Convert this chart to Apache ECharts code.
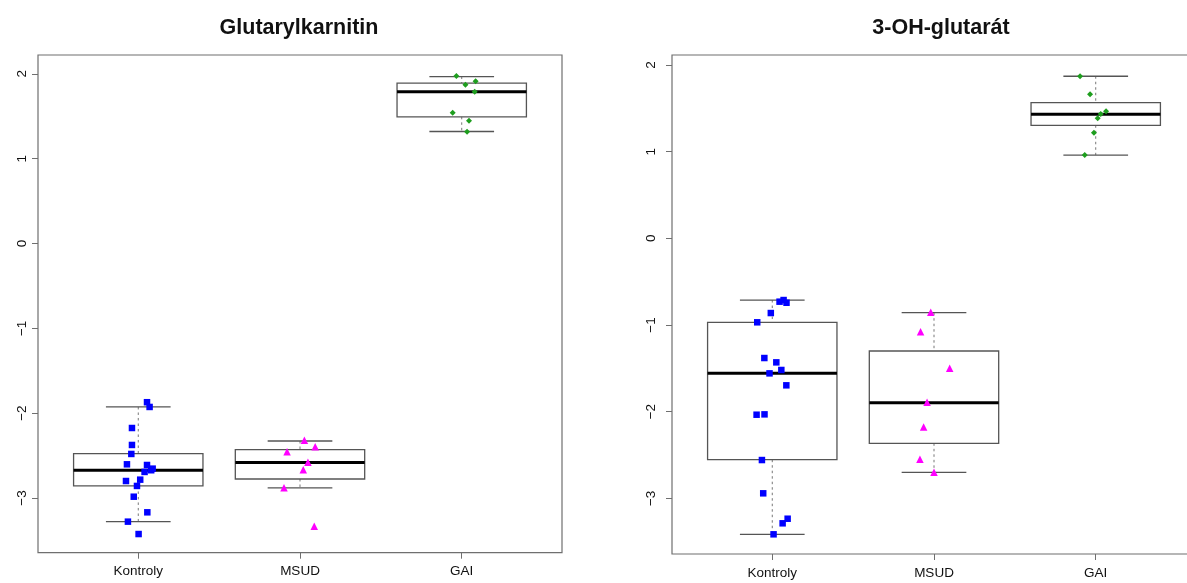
<!DOCTYPE html>
<html>
<head>
<meta charset="utf-8">
<script src="https://cdn.jsdelivr.net/npm/echarts@6/dist/echarts.min.js"></script>
<style>
html,body{margin:0;padding:0;background:#fff;}
#chart{width:1187px;height:583px;}
</style>
</head>
<body>
<div id="chart"></div>
<script>
// ---- data ----
const CATEGORIES = ['Kontroly', 'MSUD', 'GAI'];
const X_POS = [1, 2, 3];
const Y_TICKS = [-3, -2, -1, 0, 1, 2];
const TITLES = ['Glutarylkarnitin', '3-OH-glutarát'];

// Panel 1: Glutarylkarnitin
const GK_KONTROLY = [-1.871, -1.927, -2.175, -2.375, -2.481, -2.603, -2.611, -2.654, -2.673, -2.693, -2.800, -2.784, -2.858, -2.985, -3.169, -3.279, -3.425];
const GK_KONTROLY_JITTER = [0.054, 0.070, -0.039, -0.039, -0.043, -0.070, 0.054, 0.089, 0.080, 0.039, -0.076, 0.012, -0.008, -0.028, 0.056, -0.064, 0.002];
const GK_MSUD = [-2.320, -2.395, -2.454, -2.580, -2.666, -2.878, -3.334];
const GK_MSUD_JITTER = [0.027, 0.094, -0.080, 0.049, 0.020, -0.099, 0.088];
const GK_GAI = [1.973, 1.914, 1.870, 1.788, 1.540, 1.446, 1.316];
const GK_GAI_JITTER = [-0.033, 0.086, 0.023, 0.080, -0.056, 0.045, 0.033];
// [lower whisker, Q1, median, Q3, upper whisker]
const GK_BOX = [
  [-3.279, -2.858, -2.673, -2.477, -1.927],
  [-2.882, -2.776, -2.583, -2.430, -2.328],
  [1.320, 1.493, 1.788, 1.890, 1.968]
];
const GK_YRANGE = [-3.645, 2.222];

// Panel 2: 3-OH-glutarát
const OH_KONTROLY = [-0.712, -0.731, -0.743, -0.862, -0.969, -1.381, -1.431, -1.519, -1.558, -1.696, -2.035, -2.031, -2.558, -2.942, -3.235, -3.288, -3.415];
const OH_KONTROLY_JITTER = [0.070, 0.045, 0.088, -0.009, -0.093, -0.049, 0.025, 0.056, -0.017, 0.087, -0.097, -0.048, -0.064, -0.056, 0.095, 0.064, 0.008];
const OH_MSUD = [-0.853, -1.077, -1.500, -1.892, -2.177, -2.550, -2.700];
const OH_MSUD_JITTER = [-0.020, -0.083, 0.097, -0.043, -0.064, -0.087, 0.000];
const OH_GAI = [1.870, 1.662, 1.466, 1.435, 1.385, 1.219, 0.961];
const OH_GAI_JITTER = [-0.097, -0.035, 0.064, 0.031, 0.012, -0.011, -0.068];
const OH_BOX = [
  [-3.415, -2.554, -1.558, -0.969, -0.712],
  [-2.700, -2.365, -1.896, -1.300, -0.858],
  [0.961, 1.304, 1.431, 1.565, 1.870]
];
const OH_YRANGE = [-3.642, 2.115];

// ---- styles ----
const FONT = '"Liberation Sans", Arial, sans-serif';
const FRAME_COLOR = '#6f6f6f';
const BOX_COLOR = '#555555';
const WHISK_COLOR = '#777777';
const BOX_HALF = 0.4;
const GROUP_STYLES = [
  { symbol: 'rect', size: 6.5, color: '#0000FF' },
  { symbol: 'triangle', size: 7.5, color: '#FF00FF' },
  { symbol: 'diamond', size: 6, color: '#1E9E1E' }
];

function renderBox(params, api) {
  const x = api.value(0);
  const lo = api.coord([x, api.value(1)]);
  const q1 = api.coord([x, api.value(2)]);
  const md = api.coord([x, api.value(3)]);
  const q3 = api.coord([x, api.value(4)]);
  const hi = api.coord([x, api.value(5)]);
  const half = api.size([BOX_HALF, 0])[0];
  const cap = half / 2;
  const cx = lo[0];
  const dashStyle = { stroke: WHISK_COLOR, lineWidth: 1, lineDash: [2.5, 3] };
  const solid = { stroke: BOX_COLOR, lineWidth: 1.3 };
  return {
    type: 'group',
    children: [
      { type: 'line', shape: { x1: cx, y1: hi[1], x2: cx, y2: q3[1] }, style: dashStyle },
      { type: 'line', shape: { x1: cx, y1: q1[1], x2: cx, y2: lo[1] }, style: dashStyle },
      { type: 'line', shape: { x1: cx - cap, y1: hi[1], x2: cx + cap, y2: hi[1] }, style: solid },
      { type: 'line', shape: { x1: cx - cap, y1: lo[1], x2: cx + cap, y2: lo[1] }, style: solid },
      { type: 'rect', shape: { x: cx - half, y: q3[1], width: half * 2, height: q1[1] - q3[1] },
        style: { fill: 'rgba(255,255,255,0)', stroke: BOX_COLOR, lineWidth: 1.3 } },
      { type: 'line', shape: { x1: cx - half, y1: md[1], x2: cx + half, y2: md[1] },
        style: { stroke: '#000', lineWidth: 3 } }
    ]
  };
}

function boxData(boxes) {
  return boxes.map((b, i) => [X_POS[i]].concat(b));
}
function pointData(values, jitter, i) {
  return values.map((v, k) => [X_POS[i] + jitter[k], v]);
}

const grids = [
  { left: 38, top: 55, width: 524, height: 497.7 },
  { left: 672, top: 55, width: 524, height: 499 }
];

function makeX(idx) {
  return {
    gridIndex: idx, type: 'value', min: 0.38, max: 3.62, position: 'bottom',
    axisLine: { show: false, onZero: false },
    splitLine: { show: false },
    axisTick: { show: true, customValues: X_POS, length: 6, lineStyle: { color: FRAME_COLOR, width: 1 } },
    axisLabel: {
      customValues: X_POS, margin: 12, fontSize: 13.5, color: '#111', fontFamily: FONT,
      formatter: v => CATEGORIES[Math.round(v) - 1] || ''
    }
  };
}
function makeY(idx, range, margin) {
  return {
    gridIndex: idx, type: 'value', min: range[0], max: range[1], position: 'left',
    axisLine: { show: false, onZero: false },
    splitLine: { show: false },
    axisTick: { show: true, customValues: Y_TICKS, length: 6, lineStyle: { color: FRAME_COLOR, width: 1 } },
    axisLabel: {
      customValues: Y_TICKS, rotate: 90, margin: margin, fontSize: 13.5, color: '#111', fontFamily: FONT,
      formatter: v => (v < 0 ? '\u2212' + Math.abs(v) : String(v))
    }
  };
}

const panels = [
  { box: GK_BOX, groups: [[GK_KONTROLY, GK_KONTROLY_JITTER], [GK_MSUD, GK_MSUD_JITTER], [GK_GAI, GK_GAI_JITTER]] },
  { box: OH_BOX, groups: [[OH_KONTROLY, OH_KONTROLY_JITTER], [OH_MSUD, OH_MSUD_JITTER], [OH_GAI, OH_GAI_JITTER]] }
];

const series = [];
panels.forEach((p, pi) => {
  series.push({
    type: 'custom', xAxisIndex: pi, yAxisIndex: pi,
    renderItem: renderBox,
    encode: { x: 0, y: [1, 2, 3, 4, 5] },
    data: boxData(p.box), z: 2, silent: true
  });
  p.groups.forEach((g, gi) => {
    const st = GROUP_STYLES[gi];
    series.push({
      type: 'scatter', xAxisIndex: pi, yAxisIndex: pi,
      symbol: st.symbol, symbolSize: st.size,
      itemStyle: { color: st.color, opacity: 1 },
      data: pointData(g[0], g[1], gi), z: 5, silent: true
    });
  });
});

const chart = echarts.init(document.getElementById('chart'), null, { renderer: 'canvas' });
chart.setOption({
  animation: false,
  backgroundColor: '#fff',
  title: grids.map((g, i) => ({
    text: TITLES[i],
    left: g.left + g.width / 2 + (i === 1 ? 2 : -6),
    textAlign: 'center',
    top: 12,
    textStyle: { fontFamily: FONT, fontWeight: 'bold', fontSize: 21.5, color: '#111' }
  })),
  grid: grids.map(g => Object.assign({
    show: true, borderColor: FRAME_COLOR, borderWidth: 1.2, backgroundColor: 'transparent',
    containLabel: false, outerBoundsMode: 'none'
  }, g)),
  xAxis: [makeX(0), makeX(1)],
  yAxis: [makeY(0, GK_YRANGE, 9), makeY(1, OH_YRANGE, 14)],
  series: series
});
</script>
</body>
</html>
